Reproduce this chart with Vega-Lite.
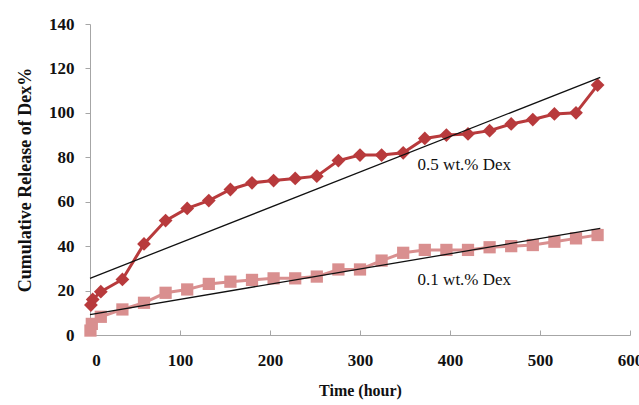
{
  "$schema": "https://vega.github.io/schema/vega-lite/v6.json",
  "width": 540,
  "height": 311,
  "autosize": {"type": "none"},
  "padding": {"left": 90, "top": 24, "right": 9, "bottom": 70},
  "background": "white",
  "config": {
    "font": "Liberation Serif",
    "view": {"stroke": null},
    "axis": {
      "grid": false,
      "domainColor": "#a6a6a6",
      "tickColor": "#a6a6a6",
      "labelFont": "Liberation Serif",
      "labelFontWeight": "bold",
      "labelFontSize": 17,
      "labelColor": "#111111",
      "titleFont": "Liberation Serif",
      "titleFontWeight": "bold",
      "titleFontSize": 16,
      "titleColor": "#111111"
    }
  },
  "datasets": {
    "release": [
      {"t": 1, "release": 13.5, "series": "0.5 wt.% Dex"},
      {"t": 3, "release": 16, "series": "0.5 wt.% Dex"},
      {"t": 12, "release": 19.5, "series": "0.5 wt.% Dex"},
      {"t": 36, "release": 25, "series": "0.5 wt.% Dex"},
      {"t": 60, "release": 41, "series": "0.5 wt.% Dex"},
      {"t": 84, "release": 51.5, "series": "0.5 wt.% Dex"},
      {"t": 108, "release": 57, "series": "0.5 wt.% Dex"},
      {"t": 132, "release": 60.5, "series": "0.5 wt.% Dex"},
      {"t": 156, "release": 65.5, "series": "0.5 wt.% Dex"},
      {"t": 180, "release": 68.5, "series": "0.5 wt.% Dex"},
      {"t": 204, "release": 69.5, "series": "0.5 wt.% Dex"},
      {"t": 228, "release": 70.5, "series": "0.5 wt.% Dex"},
      {"t": 252, "release": 71.5, "series": "0.5 wt.% Dex"},
      {"t": 276, "release": 78.5, "series": "0.5 wt.% Dex"},
      {"t": 300, "release": 81, "series": "0.5 wt.% Dex"},
      {"t": 324, "release": 81, "series": "0.5 wt.% Dex"},
      {"t": 348, "release": 82, "series": "0.5 wt.% Dex"},
      {"t": 372, "release": 88.5, "series": "0.5 wt.% Dex"},
      {"t": 396, "release": 90, "series": "0.5 wt.% Dex"},
      {"t": 420, "release": 90.5, "series": "0.5 wt.% Dex"},
      {"t": 444, "release": 92, "series": "0.5 wt.% Dex"},
      {"t": 468, "release": 95, "series": "0.5 wt.% Dex"},
      {"t": 492, "release": 97, "series": "0.5 wt.% Dex"},
      {"t": 516, "release": 99.5, "series": "0.5 wt.% Dex"},
      {"t": 540, "release": 100, "series": "0.5 wt.% Dex"},
      {"t": 564, "release": 112.5, "series": "0.5 wt.% Dex"},
      {"t": 0.5, "release": 2, "series": "0.1 wt.% Dex"},
      {"t": 2, "release": 5, "series": "0.1 wt.% Dex"},
      {"t": 12, "release": 8.2, "series": "0.1 wt.% Dex"},
      {"t": 36, "release": 11.5, "series": "0.1 wt.% Dex"},
      {"t": 60, "release": 14.5, "series": "0.1 wt.% Dex"},
      {"t": 84, "release": 19, "series": "0.1 wt.% Dex"},
      {"t": 108, "release": 20.5, "series": "0.1 wt.% Dex"},
      {"t": 132, "release": 23, "series": "0.1 wt.% Dex"},
      {"t": 156, "release": 24, "series": "0.1 wt.% Dex"},
      {"t": 180, "release": 24.8, "series": "0.1 wt.% Dex"},
      {"t": 204, "release": 25.5, "series": "0.1 wt.% Dex"},
      {"t": 228, "release": 25.5, "series": "0.1 wt.% Dex"},
      {"t": 252, "release": 26.3, "series": "0.1 wt.% Dex"},
      {"t": 276, "release": 29.5, "series": "0.1 wt.% Dex"},
      {"t": 300, "release": 29.5, "series": "0.1 wt.% Dex"},
      {"t": 324, "release": 33.5, "series": "0.1 wt.% Dex"},
      {"t": 348, "release": 37, "series": "0.1 wt.% Dex"},
      {"t": 372, "release": 38.3, "series": "0.1 wt.% Dex"},
      {"t": 396, "release": 38.3, "series": "0.1 wt.% Dex"},
      {"t": 420, "release": 38.3, "series": "0.1 wt.% Dex"},
      {"t": 444, "release": 39.5, "series": "0.1 wt.% Dex"},
      {"t": 468, "release": 40, "series": "0.1 wt.% Dex"},
      {"t": 492, "release": 40.5, "series": "0.1 wt.% Dex"},
      {"t": 516, "release": 42, "series": "0.1 wt.% Dex"},
      {"t": 540, "release": 43.5, "series": "0.1 wt.% Dex"},
      {"t": 564, "release": 45, "series": "0.1 wt.% Dex"}
    ],
    "trend": [
      {"t": 0, "fit": 25.5, "series": "0.5 wt.% Dex"},
      {"t": 567, "fit": 116, "series": "0.5 wt.% Dex"},
      {"t": 0, "fit": 9.2, "series": "0.1 wt.% Dex"},
      {"t": 567, "fit": 48, "series": "0.1 wt.% Dex"}
    ],
    "labels": [
      {"t": 364, "y": 76.5, "label": "0.5 wt.% Dex"},
      {"t": 364, "y": 24.8, "label": "0.1 wt.% Dex"}
    ]
  },
  "layer": [
    {
      "data": {"name": "release"},
      "mark": {"type": "line", "strokeWidth": 3},
      "encoding": {
        "x": {
          "field": "t", "type": "quantitative",
          "scale": {"domain": [0, 600], "nice": false, "zero": false},
          "axis": {
            "title": "Time (hour)",
            "values": [0, 100, 200, 300, 400, 500, 600],
            "tickSize": -5, "labelPadding": 22, "titlePadding": 14,
            "labelFlush": false,
            "labelOffset": {"condition": {"test": "datum.value === 0", "value": 6}, "value": 0}
          }
        },
        "y": {
          "field": "release", "type": "quantitative",
          "scale": {"domain": [0, 140], "nice": false},
          "axis": {
            "title": "Cumulative Release of Dex%",
            "titleFontSize": 18,
            "values": [0, 20, 40, 60, 80, 100, 120, 140],
            "tickSize": 5, "labelPadding": 11, "titlePadding": 14
          }
        },
        "color": {
          "field": "series", "type": "nominal",
          "scale": {"domain": ["0.1 wt.% Dex", "0.5 wt.% Dex"], "range": ["#d98f8f", "#b83a3c"]},
          "legend": null
        },
        "detail": {"field": "series"}
      }
    },
    {
      "data": {"name": "release"},
      "mark": {"type": "point", "filled": true, "opacity": 1},
      "encoding": {
        "x": {"field": "t", "type": "quantitative"},
        "y": {"field": "release", "type": "quantitative"},
        "color": {"field": "series", "type": "nominal", "legend": null},
        "shape": {
          "field": "series", "type": "nominal",
          "scale": {"domain": ["0.1 wt.% Dex", "0.5 wt.% Dex"], "range": ["square", "diamond"]},
          "legend": null
        },
        "size": {
          "field": "series", "type": "nominal",
          "scale": {"domain": ["0.1 wt.% Dex", "0.5 wt.% Dex"], "range": [150, 190]},
          "legend": null
        }
      }
    },
    {
      "data": {"name": "trend"},
      "mark": {"type": "line", "color": "#111111", "strokeWidth": 1.3},
      "encoding": {
        "x": {"field": "t", "type": "quantitative"},
        "y": {"field": "fit", "type": "quantitative"},
        "detail": {"field": "series"}
      }
    },
    {
      "data": {"name": "labels"},
      "mark": {"type": "text", "align": "left", "baseline": "middle", "font": "Liberation Serif", "fontSize": 17, "color": "#111111"},
      "encoding": {
        "x": {"field": "t", "type": "quantitative"},
        "y": {"field": "y", "type": "quantitative"},
        "text": {"field": "label"}
      }
    }
  ]
}
